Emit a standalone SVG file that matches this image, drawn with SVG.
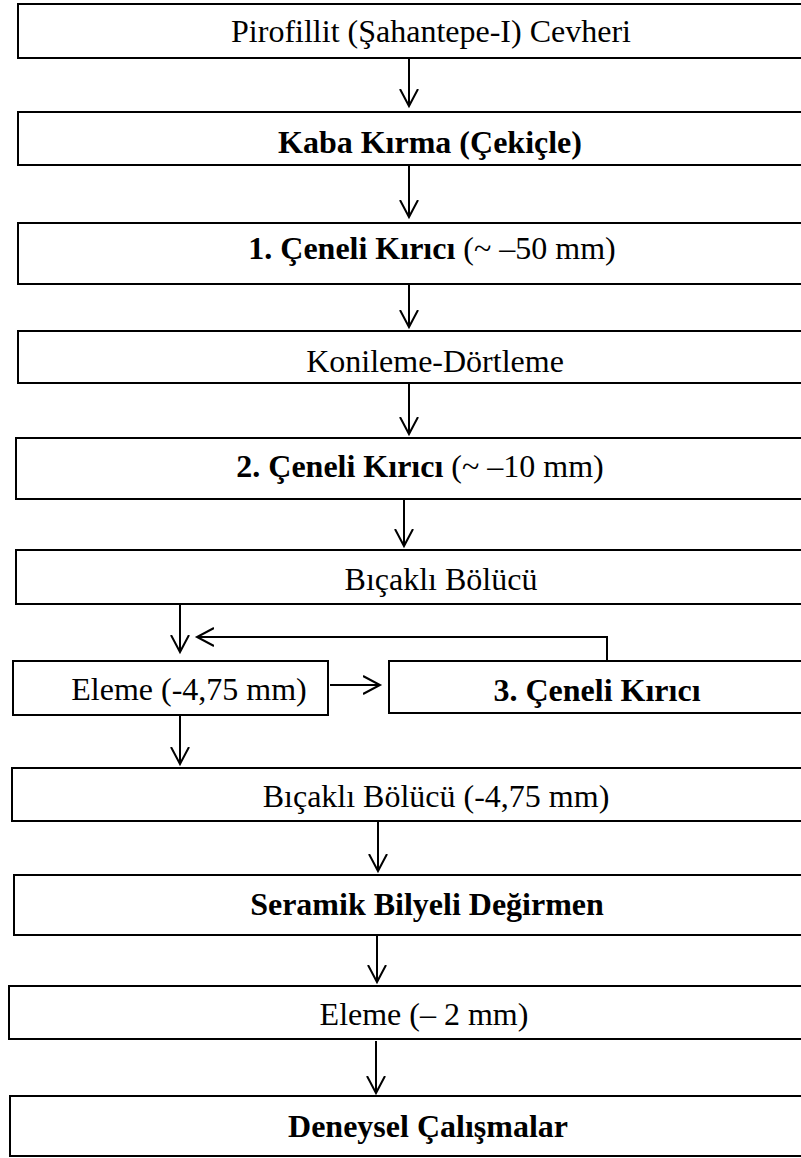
<svg xmlns="http://www.w3.org/2000/svg" width="801" height="1158" viewBox="0 0 801 1158">
<style>
rect{fill:#fff;stroke:#000;stroke-width:2}
text{font-family:"Liberation Serif","Times New Roman",serif;font-size:32px;text-anchor:middle;fill:#000}
.b{font-weight:bold}
.c line,.c path{stroke:#000;stroke-width:2;fill:none}
</style>
<defs>
<marker id="ah" viewBox="0 0 20 20" refX="17" refY="10" markerWidth="20" markerHeight="20" markerUnits="userSpaceOnUse" orient="auto">
<path d="M0,1 L17,10 L0,19" fill="none" stroke="#000" stroke-width="2"/>
</marker>
</defs>
<g id="n1"><rect x="18" y="4" width="800" height="54"/><text x="431" y="42">Pirofillit (Şahantepe-I) Cevheri</text></g>
<g id="n2"><rect x="18" y="112" width="800" height="53"/><text x="430" y="153" class="b">Kaba Kırma (Çekiçle)</text></g>
<g id="n3"><rect x="18" y="223" width="800" height="61"/><text x="432" y="259"><tspan class="b">1. Çeneli Kırıcı</tspan> (~ –50 mm)</text></g>
<g id="n4"><rect x="18" y="331" width="800" height="52"/><text x="435" y="372">Konileme-Dörtleme</text></g>
<g id="n5"><rect x="16" y="438" width="800" height="61"/><text x="420" y="477"><tspan class="b">2. Çeneli Kırıcı</tspan> (~ –10 mm)</text></g>
<g id="n6"><rect x="16" y="550" width="800" height="54"/><text x="441" y="590">Bıçaklı Bölücü</text></g>
<g id="n7"><rect x="13" y="661" width="315" height="54"/><text x="189" y="700">Eleme (-4,75 mm)</text></g>
<g id="n8"><rect x="389" y="661" width="430" height="52"/><text x="597" y="701" class="b">3. Çeneli Kırıcı</text></g>
<g id="n9"><rect x="12" y="768" width="806" height="53"/><text x="436" y="807">Bıçaklı Bölücü (-4,75 mm)</text></g>
<g id="n10"><rect x="14" y="875" width="804" height="60"/><text x="427" y="915" class="b">Seramik Bilyeli Değirmen</text></g>
<g id="n11"><rect x="9" y="986" width="809" height="53"/><text x="424" y="1025">Eleme (– 2 mm)</text></g>
<g id="n12"><rect x="10" y="1096" width="808" height="60"/><text x="428" y="1137" class="b">Deneysel Çalışmalar</text></g>
<g id="connectors" class="c">
<line x1="409" y1="58" x2="409" y2="106" marker-end="url(#ah)"/>
<line x1="409" y1="165" x2="409" y2="217" marker-end="url(#ah)"/>
<line x1="409" y1="284" x2="409" y2="327" marker-end="url(#ah)"/>
<line x1="409" y1="383" x2="409" y2="434" marker-end="url(#ah)"/>
<line x1="404" y1="499" x2="404" y2="546" marker-end="url(#ah)"/>
<line x1="180" y1="604" x2="180" y2="652" marker-end="url(#ah)"/>
<path d="M607,661 V637 H197" marker-end="url(#ah)"/>
<line x1="330" y1="685" x2="380" y2="685" marker-end="url(#ah)"/>
<line x1="180" y1="715" x2="180" y2="764" marker-end="url(#ah)"/>
<line x1="378" y1="821" x2="378" y2="871" marker-end="url(#ah)"/>
<line x1="377" y1="935" x2="377" y2="982" marker-end="url(#ah)"/>
<line x1="376" y1="1041" x2="376" y2="1093" marker-end="url(#ah)"/>
</g>
</svg>
